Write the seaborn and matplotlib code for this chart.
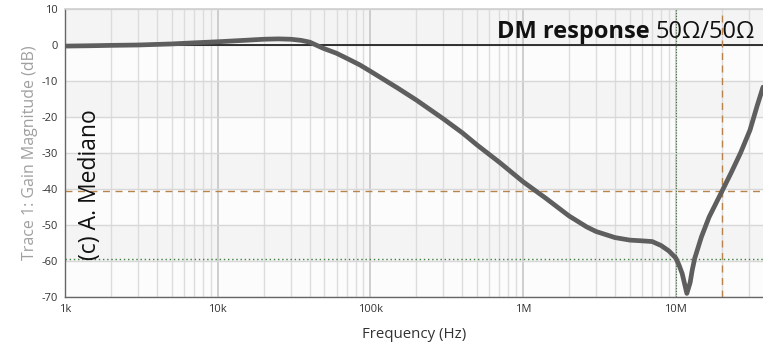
import numpy as np
import pandas as pd
import matplotlib
matplotlib.use("Agg")
import matplotlib.pyplot as plt
import seaborn as sns

# ---- data ----
freq = [1e3, 1.5e3, 2e3, 3e3, 5e3, 7e3, 1e4, 1.5e4, 2e4, 2.5e4, 3e4, 3.5e4,
        4e4, 4.9e4, 6e4, 7e4, 8.5e4, 1e5, 1.5e5, 2e5, 3e5, 4e5, 5e5, 7e5,
        1e6, 1.4e6, 2e6, 2.6e6, 3e6, 4e6, 5e6, 6e6, 7e6, 8e6, 9e6, 1e7,
        1.05e7, 1.1e7, 1.14e7, 1.18e7, 1.24e7, 1.28e7, 1.33e7, 1.47e7,
        1.65e7, 2e7, 2.3e7, 2.65e7, 3.06e7, 3.4e7, 3.72e7]
gain = [-0.3, -0.2, -0.1, 0.0, 0.3, 0.6, 0.9, 1.3, 1.6, 1.7, 1.6, 1.3,
        0.8, -0.9, -2.3, -3.7, -5.5, -7.3, -11.9, -15.3, -20.5, -24.4, -27.8,
        -32.6, -38.0, -42.5, -47.5, -50.5, -51.8, -53.5, -54.2, -54.4, -54.6,
        -55.7, -57.2, -59.2, -61.2, -63.5, -66.3, -69.0, -66.0, -62.5, -59.2,
        -53.3, -47.8, -40.7, -35.5, -30.0, -23.6, -17.0, -11.7]

x_ticks = [1e3, 1e4, 1e5, 1e6, 1e7]
x_tick_labels = ["1k", "10k", "100k", "1M", "10M"]
y_ticks = [10, 0, -10, -20, -30, -40, -50, -60, -70]
y_tick_labels = ["10", "0", "-10", "-20", "-30", "-40", "-50", "-60", "-70"]

h_markers = [-40.5, -59.5]
v_markers = [1e7, 2e7]

df = pd.DataFrame({"Frequency": freq, "Gain": gain})

sns.set_theme(style="white")
plt.rcParams["font.family"] = ["Open Sans", "DejaVu Sans"]
plt.rcParams["axes.unicode_minus"] = False

W, H = 763, 344
fig = plt.figure(figsize=(W / 100, H / 100), dpi=100)
ax = fig.add_axes([65 / W, 1 - 297 / H, 1 - 65 / W, (297 - 9) / H])
ax.set_xscale("log")
ax.set_xlim(1e3, 3.72e7)
ax.set_ylim(-70, 10)

ax.set_facecolor("#fcfcfc")
for i, top in enumerate(range(10, -70, -10)):
    if i % 2 == 0:
        ax.axhspan(top - 10, top, color="#f4f4f4", zorder=0, lw=0)

minor = [m * 10 ** d for d in range(3, 8) for m in range(2, 10)]
for xv in minor:
    if xv < 3.72e7:
        ax.axvline(xv, color="#dcdcdc", lw=1.0, zorder=1)
for xv in x_ticks:
    ax.axvline(xv, color="#c6c6c6", lw=1.2, zorder=1)
for yv in y_ticks:
    ax.axhline(yv, color="#d8d8d8", lw=1.0, zorder=1)

ax.axhline(0, color="black", lw=1.1, zorder=2)
ax.axhline(h_markers[0], color="#b8844e", lw=1.0, ls=(0, (5, 4)), zorder=2)
ax.axhline(h_markers[1], color="#3f7f3f", lw=1.0, ls=(0, (1, 2)), zorder=2)
ax.axvline(v_markers[0], color="#3f6f3f", lw=0.8, ls=(0, (1, 1.5)), zorder=2)
ax.axvline(v_markers[1], color="#b8844e", lw=1.0, ls=(0, (5, 4)), zorder=2)

sns.lineplot(data=df, x="Frequency", y="Gain", ax=ax, color="#5e5e5e",
             lw=3.4, zorder=3, legend=False)

ax.set_xticks(x_ticks)
ax.set_xticklabels(x_tick_labels)
ax.set_xticks([], minor=True)
ax.set_yticks(y_ticks)
ax.set_yticklabels(y_tick_labels)
ax.tick_params(axis="both", labelsize=8, colors="#555555", length=3,
               width=0.8, pad=2, direction="out")
for lab in ax.get_xticklabels() + ax.get_yticklabels():
    lab.set_color("#333333")

ax.set_xlabel("Frequency (Hz)", fontsize=10.8, color="#333333", labelpad=9)
ax.set_ylabel("Trace 1: Gain Magnitude (dB)", fontsize=11.5, color="#a0a0a0",
              labelpad=3)

for side in ["left", "bottom"]:
    ax.spines[side].set_color("#666666")
    ax.spines[side].set_linewidth(1.0)
ax.spines["top"].set_color("#d0d0d0")
ax.spines["right"].set_visible(False)

# annotation: bold part + regular part
fig.canvas.draw()
renderer = fig.canvas.get_renderer()
t2 = fig.text(755 / W, 1 - 38 / H, "50Ω/50Ω", ha="right", va="baseline",
              fontsize=17, color="#111111", zorder=5)
bb = t2.get_window_extent(renderer)
fig.text((bb.x0 - 6) / W, 1 - 38 / H, "DM response", ha="right",
         va="baseline", fontsize=17, fontweight="bold", color="#111111",
         zorder=5)

ax.text(0.036, 0.39, "(c) A. Mediano", transform=ax.transAxes, rotation=90,
        ha="center", va="center", fontsize=16.5, color="#111111", zorder=5)

fig.savefig("out.png", dpi=100)
